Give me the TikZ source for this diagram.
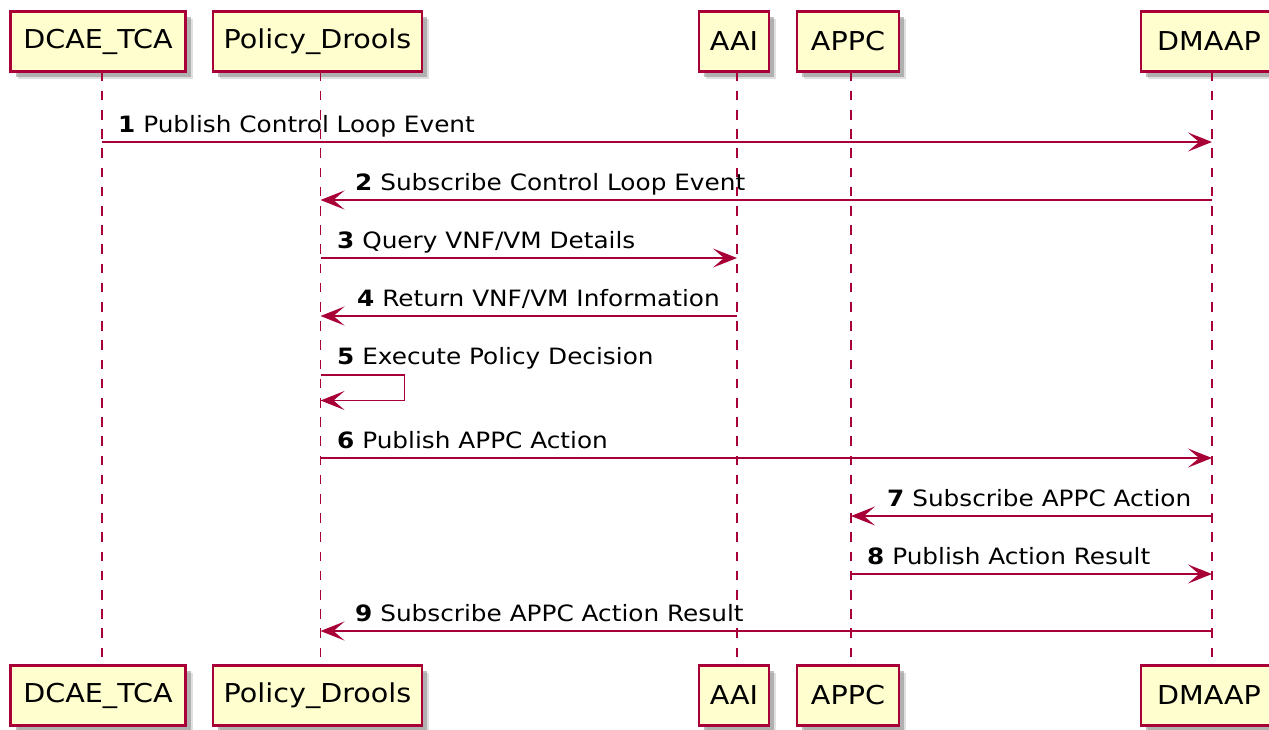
\documentclass[tikz,border=0pt]{standalone}
\usepackage{fontspec}
\setmainfont[FakeStretch=1.1]{DejaVu Sans}
\usetikzlibrary{arrows.meta,shadows}
\definecolor{umlred}{HTML}{A80036}
\definecolor{umlfill}{HTML}{FEFECE}

\begin{document}
\begin{tikzpicture}[x=1pt,y=-1pt]
% Define the styles
\tikzstyle{actor} = [draw=umlred, fill=umlfill, line width=2.8pt, minimum height=60pt, inner sep=0pt,
  font=\fontsize{26}{31}\selectfont,
  drop shadow={shadow xshift=7pt, shadow yshift=-7pt, fill=black!40, opacity=.3},
  drop shadow={shadow xshift=5pt, shadow yshift=-5pt, fill=black!50, opacity=.5}]
\tikzstyle{lifeline} = [draw=umlred, line width=1.9pt, dash pattern=on 9.6pt off 9.6pt]
\tikzstyle{msg} = [draw=umlred, line width=1.9pt, -{Stealth[length=24pt, width=19pt, inset=11pt]}]
\tikzstyle{lbl} = [anchor=base west, inner sep=0pt, font=\fontsize{22.5}{27}\selectfont]

\useasboundingbox (0,0) rectangle (1269,729);

% Define the participants (top and bottom)
\node[actor, minimum width=175pt] (dcaeT) at (98,41.5) {DCAE\_TCA};
\node[actor, minimum width=209pt] (polT) at (317.5,41.5) {Policy\_Drools};
\node[actor, minimum width=70pt] (aaiT) at (734,41.5) {AAI};
\node[actor, minimum width=102pt] (appcT) at (848,41.5) {APPC};
\node[actor, minimum width=136pt] (dmaapT) at (1209,41.5) {DMAAP};

\node[actor, minimum width=175pt] (dcaeB) at (98,695.5) {DCAE\_TCA};
\node[actor, minimum width=209pt] (polB) at (317.5,695.5) {Policy\_Drools};
\node[actor, minimum width=70pt] (aaiB) at (734,695.5) {AAI};
\node[actor, minimum width=102pt] (appcB) at (848,695.5) {APPC};
\node[actor, minimum width=136pt] (dmaapB) at (1209,695.5) {DMAAP};

% Lifelines
\coordinate (dcae) at (102,71.5);
\coordinate (pol) at (320.5,71.5);
\coordinate (aai) at (737,71.5);
\coordinate (appc) at (851,71.5);
\coordinate (dmaap) at (1212,71.5);

\draw[lifeline] (dcae) -- (dcae |- dcaeB.north);
\draw[lifeline] (pol) -- (pol |- polB.north);
\draw[lifeline] (aai) -- (aai |- aaiB.north);
\draw[lifeline] (appc) -- (appc |- appcB.north);
\draw[lifeline] (dmaap) -- (dmaap |- dmaapB.north);

% Define the messages
\draw[msg] (dcae |- 0,142) -- (dmaap |- 0,142);
\draw[msg] (dmaap |- 0,200) -- (pol |- 0,200);
\draw[msg] (pol |- 0,258) -- (aai |- 0,258);
\draw[msg] (aai |- 0,316) -- (pol |- 0,316);
\draw[msg] (pol |- 0,375) -- ++(84,0) -- ++(0,25.5) -- (pol |- 0,400.5);
\draw[msg] (pol |- 0,458) -- (dmaap |- 0,458);
\draw[msg] (dmaap |- 0,516) -- (appc |- 0,516);
\draw[msg] (appc |- 0,574) -- (dmaap |- 0,574);
\draw[msg] (dmaap |- 0,631) -- (pol |- 0,631);

% Message labels
\node[lbl] (m1) at (118,132) {\textbf{1} Publish Control Loop Event};
\node[lbl] (m2) at (355,190) {\textbf{2} Subscribe Control Loop Event};
\node[lbl] (m3) at (337,248) {\textbf{3} Query VNF/VM Details};
\node[lbl] (m4) at (357,306) {\textbf{4} Return VNF/VM Information};
\node[lbl] (m5) at (337,364) {\textbf{5} Execute Policy Decision};
\node[lbl] (m6) at (337,448) {\textbf{6} Publish APPC Action};
\node[lbl] (m7) at (887,506) {\textbf{7} Subscribe APPC Action};
\node[lbl] (m8) at (867,564) {\textbf{8} Publish Action Result};
\node[lbl] (m9) at (355,621) {\textbf{9} Subscribe APPC Action Result};

\end{tikzpicture}
\end{document}
